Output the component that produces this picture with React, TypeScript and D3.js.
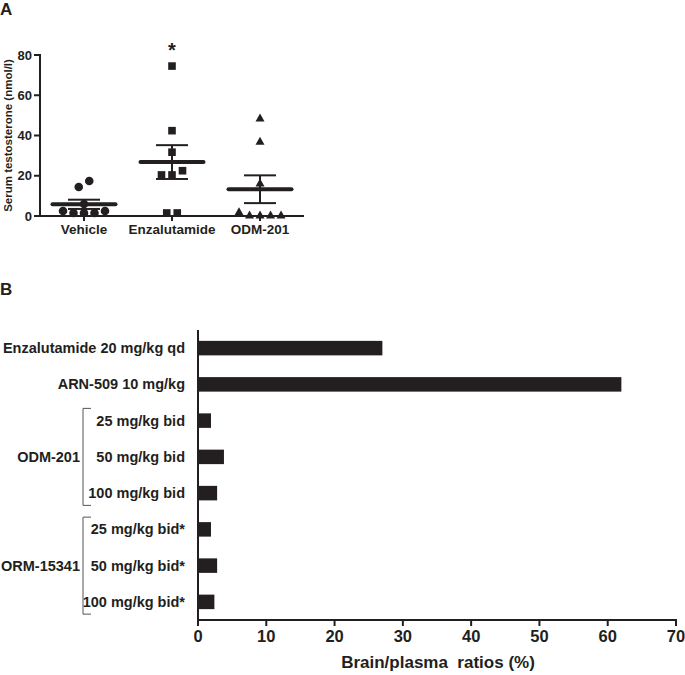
import React from "react";
import * as d3 from "d3";

// Panel A data
const groups = ["Vehicle", "Enzalutamide", "ODM-201"];
const vehicle = [2.5, 1.5, 1.5, 1.5, 2.5, 6, 14.4, 17.4];
const enzalutamide = [1.5, 1.5, 20.4, 20.4, 22.5, 31.7, 42.4, 74.5];
const odm201 = [2, 0.3, 0.3, 0.3, 0.3, 16.3, 37, 48.6];
const groupMeans = [5.8, 26.8, 13.3];
const groupSems = [2.3, 8.4, 6.9];
const yTicksA = [0, 20, 40, 60, 80];

// Panel B data
const treatments = [
  "Enzalutamide 20 mg/kg qd",
  "ARN-509 10 mg/kg",
  "25 mg/kg bid",
  "50 mg/kg bid",
  "100 mg/kg bid",
  "25 mg/kg bid*",
  "50 mg/kg bid*",
  "100 mg/kg bid*",
];
const ratios = [27, 62, 1.9, 3.8, 2.8, 1.9, 2.8, 2.4];
const bracketGroups = [
  { name: "ODM-201", from: 2, to: 4 },
  { name: "ORM-15341", from: 5, to: 7 },
];
const xTicksB = [0, 10, 20, 30, 40, 50, 60, 70];

const FONT = "'Liberation Sans', Arial, sans-serif";
const INK = "#231f20";

function swarm(values: number[], y: (v: number) => number, spacing: number, thresh: number) {
  const idx = values.map((v, i) => i).sort((a, b) => values[a] - values[b]);
  const rows: number[][] = [];
  let cur: number[] = [];
  let startY = 0;
  idx.forEach((i) => {
    const py = y(values[i]);
    if (cur.length === 0 || Math.abs(py - startY) > thresh) {
      if (cur.length) rows.push(cur);
      cur = [i];
      startY = py;
    } else cur.push(i);
  });
  if (cur.length) rows.push(cur);
  const offs = new Array(values.length).fill(0);
  rows.forEach((r) => {
    const sorted = [...r].sort((a, b) => a - b);
    sorted.forEach((i, k) => {
      offs[i] = (k - (sorted.length - 1) / 2) * spacing;
    });
  });
  return offs;
}

function Marker({ type, x, y }: { type: number; x: number; y: number }) {
  if (type === 0) return <circle cx={x} cy={y} r={4.3} fill={INK} />;
  if (type === 1) return <rect x={x - 3.8} y={y - 3.8} width={7.6} height={7.6} fill={INK} />;
  return <path d={`M${x},${y - 4.8}L${x + 4.5},${y + 3.2}L${x - 4.5},${y + 3.2}Z`} fill={INK} />;
}

export default function App() {
  // Panel A scales
  const yA = d3.scaleLinear().domain([0, 80]).range([216, 55]);
  const xA = d3.scalePoint<string>().domain(groups).range([40, 304]).padding(0.5);
  const series = [vehicle, enzalutamide, odm201];

  // Panel B scales
  const xB = d3.scaleLinear().domain([0, 70]).range([198, 676]);
  const yB = d3.scaleBand<string>().domain(treatments).range([330, 620]).paddingInner(0.6).paddingOuter(0.3);

  return (
    <svg width={685} height={675} style={{ position: "absolute", left: 0, top: 0 }} fontFamily={FONT}>
      <rect width={685} height={675} fill="#fff" />
      {/* Panel A */}
      <text x={0} y={15} fontSize={17} fontWeight="bold" fill={INK}>A</text>
      <text
        transform={`translate(12,${(yA(0) + yA(80)) / 2}) rotate(-90)`}
        textAnchor="middle"
        fontSize={11.5}
        fontWeight="bold"
        fill={INK}
      >
        Serum testosterone (nmol/l)
      </text>
      {/* points */}
      {series.map((vals, gi) => {
        const offs = swarm(vals, yA, 10.5, 7);
        const cx = xA(groups[gi])!;
        return vals.map((v, i) => <Marker key={`${gi}-${i}`} type={gi} x={cx + offs[i]} y={yA(v)} />);
      })}
      {/* mean & SEM */}
      {groups.map((g, gi) => {
        const cx = xA(g)!;
        const m = groupMeans[gi];
        const s = groupSems[gi];
        return (
          <g key={g} stroke={INK}>
            <line x1={cx} x2={cx} y1={yA(m + s)} y2={yA(m - s)} strokeWidth={2} />
            <line x1={cx - 16} x2={cx + 16} y1={yA(m + s)} y2={yA(m + s)} strokeWidth={2} />
            <line x1={cx - 16} x2={cx + 16} y1={yA(m - s)} y2={yA(m - s)} strokeWidth={2} />
            <line x1={cx - 31.5} x2={cx + 31.5} y1={yA(m)} y2={yA(m)} strokeWidth={4} strokeLinecap="round" />
          </g>
        );
      })}
      {/* axes A */}
      <g stroke={INK} strokeWidth={2}>
        <line x1={40} x2={40} y1={yA(80) - 1} y2={yA(0) + 1} />
        <line x1={39} x2={304} y1={yA(0)} y2={yA(0)} />
        {yTicksA.map((t) => (
          <line key={t} x1={34} x2={40} y1={yA(t)} y2={yA(t)} />
        ))}
        {groups.map((g) => (
          <line key={g} x1={xA(g)!} x2={xA(g)!} y1={yA(0)} y2={yA(0) + 5} />
        ))}
      </g>
      {yTicksA.map((t) => (
        <text key={t} x={32} y={yA(t) + 4.5} textAnchor="end" fontSize={13} fontWeight="bold" fill={INK}>
          {t}
        </text>
      ))}
      {groups.map((g) => (
        <text key={g} x={xA(g)!} y={234} textAnchor="middle" fontSize={13.5} fontWeight="bold" fill={INK}>
          {g}
        </text>
      ))}
      <text x={xA("Enzalutamide")!} y={57} textAnchor="middle" fontSize={20} fontWeight="bold" fill={INK}>
        *
      </text>

      {/* Panel B */}
      <text x={0} y={295} fontSize={17} fontWeight="bold" fill={INK}>B</text>
      {treatments.map((t, i) => (
        <rect
          key={t}
          x={xB(0)}
          y={yB(t)!}
          width={xB(ratios[i]) - xB(0)}
          height={yB.bandwidth()}
          fill={INK}
        />
      ))}
      <g stroke={INK} strokeWidth={2}>
        <line x1={198} x2={198} y1={330} y2={621} />
        <line x1={197} x2={677} y1={620} y2={620} />
        {xTicksB.map((t) => (
          <line key={t} x1={xB(t)} x2={xB(t)} y1={620} y2={626} />
        ))}
      </g>
      {treatments.map((t) => (
        <text
          key={t}
          x={185}
          y={yB(t)! + yB.bandwidth() / 2 + 5}
          textAnchor="end"
          fontSize={14.5}
          fontWeight="bold"
          fill={INK}
        >
          {t}
        </text>
      ))}
      {bracketGroups.map((bg) => {
        const y1 = yB(treatments[bg.from])! - 5;
        const y2 = yB(treatments[bg.to])! + yB.bandwidth() + 5;
        return (
          <g key={bg.name}>
            <path d={`M91,${y1}H83V${y2}H91`} fill="none" stroke="#555" strokeWidth={1} />
            <text x={80} y={(y1 + y2) / 2 + 5} textAnchor="end" fontSize={14.5} fontWeight="bold" fill={INK}>
              {bg.name}
            </text>
          </g>
        );
      })}
      {xTicksB.map((t) => (
        <text key={t} x={xB(t)} y={642} textAnchor="middle" fontSize={16.5} fontWeight="bold" fill={INK}>
          {t}
        </text>
      ))}
      <text x={438} y={668} textAnchor="middle" fontSize={17} fontWeight="bold" fill={INK} xmlSpace="preserve">
        Brain/plasma  ratios (%)
      </text>
    </svg>
  );
}
